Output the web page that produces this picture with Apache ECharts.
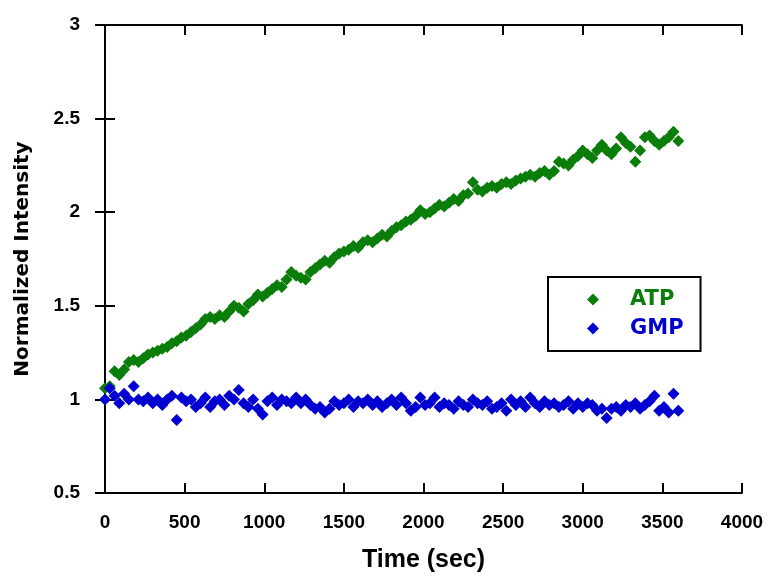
<!DOCTYPE html>
<html>
<head>
<meta charset="utf-8">
<script src="https://cdn.jsdelivr.net/npm/echarts@6/dist/echarts.min.js"></script>
<style>html,body{margin:0;padding:0;background:#fff}#c{width:774px;height:578px}</style>
</head>
<body>
<div id="c"></div>
<script>
const timeSec = [0,30,60,90,120,150,180,210,240,270,300,330,360,390,420,450,480,510,540,570,
600,630,660,690,720,750,780,810,840,870,900,930,960,990,1020,1050,1080,1110,1140,1170,
1200,1230,1260,1290,1320,1350,1380,1410,1440,1470,1500,1530,1560,1590,1620,1650,1680,1710,1740,1770,
1800,1830,1860,1890,1920,1950,1980,2010,2040,2070,2100,2130,2160,2190,2220,2250,2280,2310,2340,2370,
2400,2430,2460,2490,2520,2550,2580,2610,2640,2670,2700,2730,2760,2790,2820,2850,2880,2910,2940,2970,
3000,3030,3060,3090,3120,3150,3180,3210,3240,3270,3300,3330,3360,3390,3420,3450,3480,3510,3540,3570,3600];

const atp = [1.06,1.07,1.15,1.13,1.16,1.20,1.21,1.20,1.22,1.24,1.25,1.26,1.27,1.28,1.30,1.31,1.33,1.34,1.36,1.38,
1.40,1.43,1.44,1.43,1.45,1.44,1.47,1.50,1.49,1.47,1.51,1.53,1.56,1.55,1.57,1.59,1.61,1.60,1.64,1.68,
1.66,1.65,1.64,1.68,1.70,1.72,1.74,1.73,1.76,1.78,1.79,1.80,1.82,1.81,1.84,1.85,1.84,1.86,1.88,1.87,
1.90,1.92,1.93,1.95,1.96,1.98,2.01,1.99,2.00,2.02,2.04,2.03,2.05,2.07,2.06,2.09,2.10,2.16,2.12,2.11,
2.13,2.14,2.13,2.15,2.16,2.15,2.17,2.18,2.19,2.20,2.19,2.21,2.22,2.20,2.22,2.27,2.26,2.25,2.28,2.30,
2.33,2.31,2.29,2.33,2.36,2.33,2.31,2.34,2.40,2.37,2.35,2.27,2.33,2.40,2.41,2.38,2.36,2.38,2.40,2.43,2.38];

const gmp = [1.00,1.06,1.02,0.98,1.03,1.00,1.07,1.00,0.99,1.01,0.98,1.00,0.97,1.00,1.02,0.89,1.01,0.99,1.00,0.96,
0.98,1.01,0.96,0.99,1.00,0.97,1.02,1.00,1.05,0.98,0.96,1.00,0.95,0.92,0.99,1.01,0.97,1.00,0.99,0.98,
1.01,0.98,1.00,0.97,0.95,0.96,0.93,0.95,0.99,0.97,0.98,1.00,0.96,0.99,0.98,1.00,0.97,0.99,0.96,0.98,
1.00,0.97,1.01,0.98,0.94,0.96,1.01,0.97,0.98,1.01,0.96,0.98,0.97,0.95,0.99,0.97,0.96,1.00,0.98,0.97,
0.99,0.95,0.96,0.98,0.94,1.00,0.97,0.99,0.96,1.01,0.98,0.96,0.99,0.97,0.98,0.96,0.97,0.99,0.95,0.98,
0.96,0.98,0.97,0.94,0.95,0.90,0.95,0.96,0.94,0.97,0.96,0.98,0.95,0.97,0.99,1.02,0.94,0.96,0.93,1.03,0.94];

const xTicks = [0,500,1000,1500,2000,2500,3000,3500,4000];
const yTicks = [0.5,1,1.5,2,2.5,3];

const chart = echarts.init(document.getElementById('c'));
const FONT = 'Liberation Sans, Arial, sans-serif';
function lab(size){ return {color:'#000', fontFamily:FONT, fontWeight:'bold', fontSize:size}; }
function axLine(){ return {show:true, lineStyle:{color:'#000', width:2}}; }
function tickIn(){ return {show:true, inside:true, length:10, lineStyle:{color:'#000', width:2}}; }
chart.setOption({
  animation:false,
  backgroundColor:'#fff',
  grid:{left:105, right:32, top:25, bottom:81},
  legend:{
    orient:'vertical', left:548, top:277,
    padding:[12,17,12,39],
    borderColor:'#000', borderWidth:2,
    itemWidth:12, itemHeight:12, itemGap:8,
    textStyle:{fontFamily:'DejaVu Sans, sans-serif', fontWeight:'bold', fontSize:21, padding:[0,0,0,26], lineHeight:20},
    data:[
      {name:'ATP', icon:'diamond', textStyle:{color:'#0a7d0a'}},
      {name:'GMP', icon:'diamond', textStyle:{color:'#0000d0'}}
    ]
  },
  xAxis:[{
    type:'value', min:0, max:4000, interval:500,
    name:'Time (sec)', nameLocation:'middle', nameGap:55,
    nameTextStyle:lab(25),
    axisLine:axLine(), axisTick:tickIn(), splitLine:{show:false},
    axisLabel:Object.assign({margin:20, formatter:v=>String(v)}, lab(19))
  },{
    type:'value', position:'top', min:0, max:4000, interval:500,
    axisLine:axLine(), axisTick:tickIn(), splitLine:{show:false}, axisLabel:{show:false}
  }],
  yAxis:[{
    type:'value', min:0.5, max:3, interval:0.5,
    name:'Normalized Intensity', nameLocation:'middle', nameGap:72, nameRotate:90,
    nameTextStyle:{color:'#000', fontFamily:'DejaVu Sans, sans-serif', fontWeight:'bold', fontSize:20},
    axisLine:axLine(), axisTick:tickIn(), splitLine:{show:false},
    axisLabel:Object.assign({margin:25, formatter:v=>String(v)}, lab(19))
  },{
    type:'value', position:'right', min:0.5, max:3, interval:0.5,
    axisLine:axLine(), axisTick:tickIn(), splitLine:{show:false}, axisLabel:{show:false}
  }],
  series:[
    {name:'ATP', type:'scatter', symbol:'diamond', symbolSize:12,
     itemStyle:{color:'#0a7d0a', opacity:1},
     data: timeSec.map((t,i)=>[t, atp[i]])},
    {name:'GMP', type:'scatter', symbol:'diamond', symbolSize:12,
     itemStyle:{color:'#0000d0', opacity:1},
     data: timeSec.map((t,i)=>[t, gmp[i]])}
  ]
});
</script>
</body>
</html>
